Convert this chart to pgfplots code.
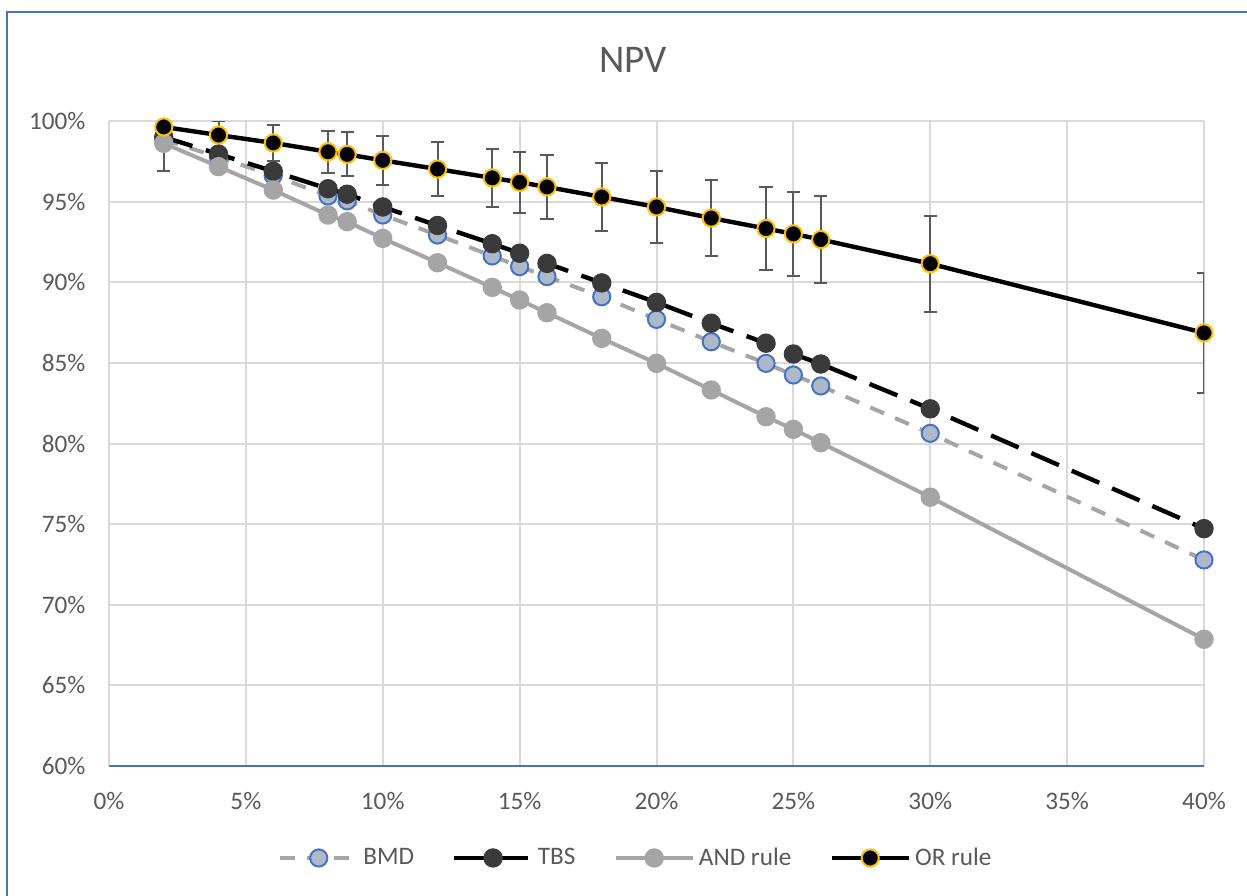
\documentclass[border=0pt]{standalone}
\usepackage{pgfplots}
\pgfplotsset{compat=1.18}
\usepackage{pgfplotstable}
\usepackage{fontspec}
\setmainfont{Carlito}
\definecolor{txt}{HTML}{595959}
\definecolor{gridc}{HTML}{D9D9D9}
\definecolor{axblue}{HTML}{4472C4}
\definecolor{andgray}{HTML}{A5A5A5}
\definecolor{bmdfill}{HTML}{ADB9CA}
\definecolor{tbsdark}{HTML}{3A3A3A}
\definecolor{orgold}{HTML}{FFC000}
\definecolor{errc}{HTML}{595959}

\pgfplotstableread{
x    bmd    tbs    and    or     e
2    98.85  99.00  98.62  99.63  2.70
4    97.75  97.95  97.17  99.13  0.85
6    96.62  96.88  95.72  98.64  1.10
8    95.35  95.80  94.17  98.09  1.30
8.7  95.05  95.46  93.76  97.93  1.36
10   94.17  94.67  92.72  97.56  1.50
12   92.93  93.52  91.21  97.02  1.65
14   91.63  92.39  89.68  96.47  1.78
15   90.97  91.80  88.90  96.20  1.88
16   90.35  91.17  88.11  95.91  1.96
18   89.10  89.96  86.52  95.29  2.10
20   87.70  88.75  84.97  94.67  2.24
22   86.31  87.46  83.32  93.98  2.38
24   84.97  86.22  81.66  93.33  2.55
25   84.25  85.55  80.88  93.00  2.62
26   83.57  84.93  80.05  92.65  2.67
30   80.63  82.15  76.67  91.15  2.97
40   72.78  74.72  67.86  86.86  3.70
}\data

\begin{document}
\begin{tikzpicture}
\useasboundingbox (-54.5pt,-64.5pt) rectangle (569pt,383pt);
\draw[axblue, line width=1pt] (-51pt,-70pt) -- (-51pt,377pt) -- (575pt,377pt);
\begin{axis}[
  at={(0pt,0pt)}, anchor=south west,
  width=547.5pt, height=322.5pt, scale only axis,
  xmin=0, xmax=40, ymin=60, ymax=100,
  xtick={0,5,...,40}, ytick={60,65,...,100},
  xticklabels={0\%,5\%,10\%,15\%,20\%,25\%,30\%,35\%,40\%},
  yticklabels={60\%,65\%,70\%,75\%,80\%,85\%,90\%,95\%,100\%},
  grid=major, grid style={gridc, line width=1pt},
  axis line style={draw=none},
  major tick length=0pt,
  tick label style={font=\fontsize{12.6}{14}\selectfont, text=txt},
  xticklabel style={yshift=-9.6pt},
  yticklabel style={xshift=-8.3pt},
  legend columns=4,
  legend cell align=left,
  legend style={draw=none, fill=none, at={(axis description cs:0.482,-0.1426)}, anchor=center,
    font=\fontsize{12.6}{14}\selectfont, text=txt,
    /tikz/every even column/.append style={column sep=17pt}},
  legend image code/.code={\draw[mark repeat=2,mark phase=2,#1] plot coordinates {(0cm,0cm) (0.68cm,0cm) (1.36cm,0cm)};},
]
\addplot[color=andgray, line width=2pt, dash pattern=on 7.5pt off 6pt, mark=*, mark size=4.3pt,
  mark options={solid, fill=bmdfill, draw=axblue, line width=1pt}] table[x=x,y=bmd] {\data};
\addlegendentry{BMD}
\addplot[black, line width=2.2pt, dash pattern=on 15pt off 7pt, mark=*, mark size=4.6pt,
  mark options={solid, fill=tbsdark, draw=tbsdark, line width=0.5pt}] table[x=x,y=tbs] {\data};
\addlegendentry{TBS}
\addplot[andgray, line width=2pt, mark=*, mark size=4.6pt,
  mark options={fill=andgray, draw=andgray, line width=0.5pt}] table[x=x,y=and] {\data};
\addlegendentry{AND rule}
\addplot[black, line width=2.2pt, mark=*, mark size=4.3pt,
  mark options={fill=black, draw=orgold, line width=1pt},
  error bars/.cd, y dir=both, y explicit,
  error bar style={errc, line width=1pt, solid},
  error mark options={errc, line width=1pt, mark size=3.3pt, rotate=90}] table[x=x,y=or,y error=e] {\data};
\addlegendentry{OR rule}
\end{axis}
\draw[axblue, line width=1pt] (0pt,0pt) -- (547.5pt,0pt);
\node[font=\fontsize{19.6}{22}\selectfont, text=txt] at (262pt,353pt) {NPV};
\end{tikzpicture}
\end{document}
